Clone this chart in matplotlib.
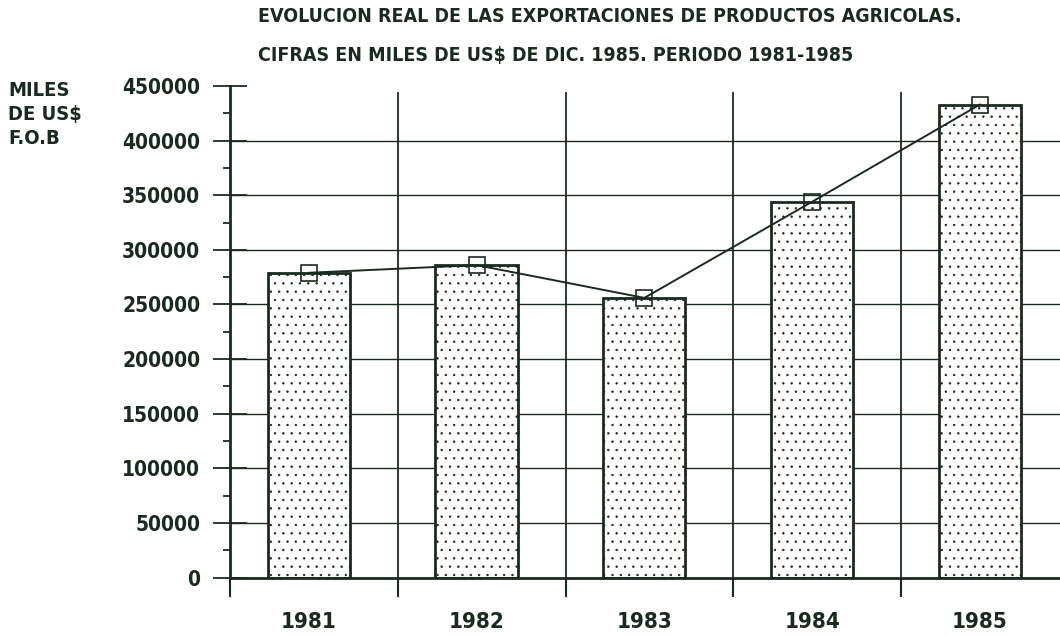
import matplotlib
matplotlib.use("Agg")
import matplotlib.pyplot as plt
import numpy as np

years = ["1981", "1982", "1983", "1984", "1985"]
exports = [279000, 286000, 256000, 344000, 433000]
y_ticks = [0, 50000, 100000, 150000, 200000, 250000, 300000, 350000, 400000, 450000]
y_label_lines = ["MILES", "DE US$", "F.O.B"]
title_lines = ["EVOLUCION REAL DE LAS EXPORTACIONES DE PRODUCTOS AGRICOLAS.",
               "CIFRAS EN MILES DE US$ DE DIC. 1985. PERIODO 1981-1985"]

INK = "#1b2a1e"
plt.rcParams["hatch.color"] = "#aab0aa"
plt.rcParams["hatch.linewidth"] = 0.5

fig = plt.figure(figsize=(10.6, 6.37), dpi=100)
W, H = 1060, 637
x0_px, y0_px, ytop_px = 230, 577.5, 86
unit = 167.75
ax = fig.add_axes([x0_px / W, (H - y0_px) / H, 5 * unit / W, (y0_px - ytop_px) / H])

x = np.arange(len(years))
ax.set_xlim(-0.47, len(years) - 0.47)
ax.set_ylim(0, 450000)

for v in y_ticks[1:-1]:
    ax.axhline(v, color=INK, lw=1.0, zorder=0)
for b in np.arange(len(years)) + 0.53:
    ax.axvline(b, ymax=0.985, color=INK, lw=1.3, zorder=0)

ax.bar(x, exports, width=0.49, facecolor="white", edgecolor=INK,
       linewidth=2.0, hatch="..", zorder=2)
ax.plot(x, exports, color=INK, lw=1.4, marker="s", markersize=12,
        markerfacecolor="none", markeredgecolor=INK, markeredgewidth=1.2, zorder=3)

for s in ["top", "right"]:
    ax.spines[s].set_visible(False)
for s in ["left", "bottom"]:
    ax.spines[s].set_color(INK)
    ax.spines[s].set_linewidth(2.0)

ax.set_yticks(y_ticks)
ax.set_yticklabels([str(v) for v in y_ticks])
ax.set_yticks(np.arange(25000, 450000, 50000), minor=True)
ax.tick_params(axis="y", which="major", direction="inout", length=25, width=1.3,
               color=INK, pad=9, labelsize=15, labelcolor=INK)
ax.tick_params(axis="y", which="minor", direction="out", length=5, width=1.3, color=INK)
for t in ax.get_yticklabels():
    t.set_fontweight("bold")
    t.set_fontstretch("condensed")

ax.set_xticks(x)
ax.set_xticklabels(years, fontsize=16, fontweight="bold", color=INK, fontstretch="condensed")
ax.set_xticks(np.arange(len(years)) - 0.47, minor=True)
ax.tick_params(axis="x", which="major", length=0, pad=25)
ax.tick_params(axis="x", which="minor", direction="out", length=14, width=1.5, color=INK)

for i, ty in enumerate([17, 55]):
    fig.text(258 / W, 1 - ty / H, title_lines[i], fontsize=14, fontweight="bold",
             color=INK, fontstretch="condensed", ha="left", va="center")
fig.text(8 / W, 1 - 81 / H, "\n".join(y_label_lines), fontsize=14.5, fontweight="bold",
         color=INK, fontstretch="condensed", ha="left", va="top", linespacing=1.35)

fig.savefig("out.png", dpi=100, facecolor="white")
